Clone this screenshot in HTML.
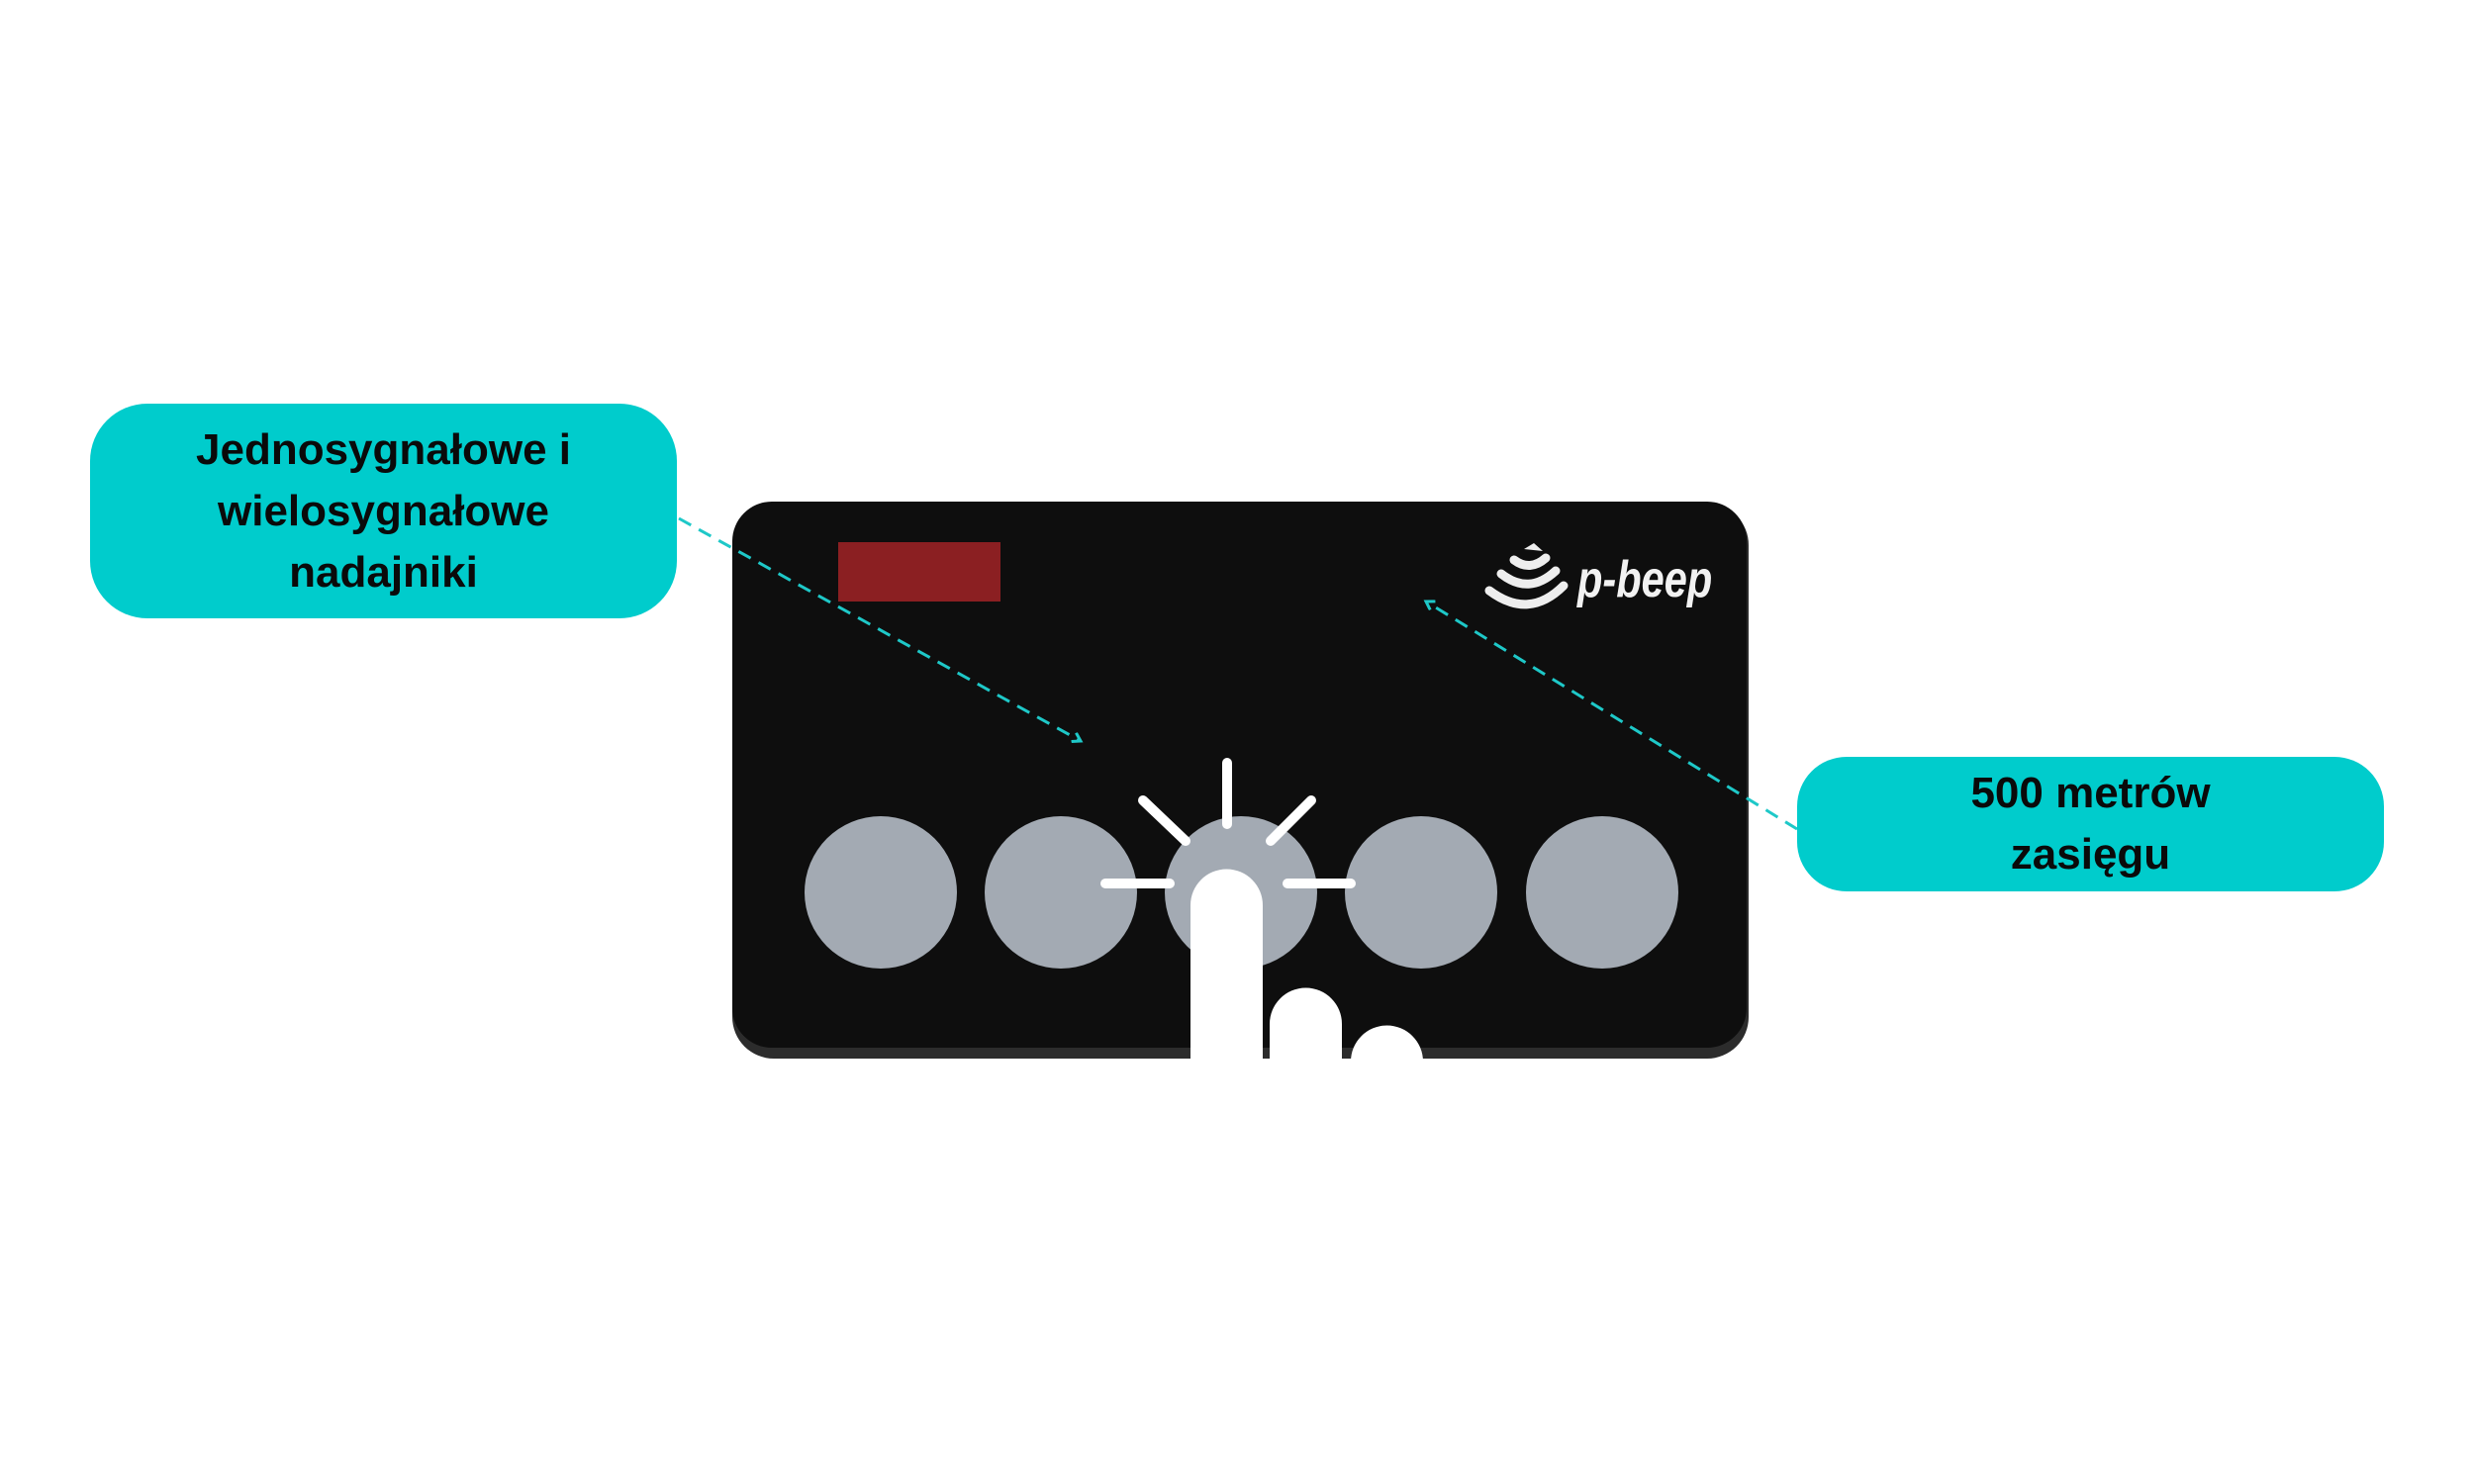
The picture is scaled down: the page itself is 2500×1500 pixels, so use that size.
<!DOCTYPE html>
<html><head><meta charset="utf-8"><style>
html,body{margin:0;padding:0;background:#fff;}
body{width:2500px;height:1500px;position:relative;overflow:hidden;font-family:"Liberation Sans",sans-serif;}
.box{position:absolute;background:#00cccc;border-radius:58px;color:#0a0a0a;font-weight:bold;font-size:44px;line-height:62px;text-align:center;display:flex;align-items:center;justify-content:center;}
</style></head><body>
<svg width="2500" height="1500" style="position:absolute;left:0;top:0">
<defs>
<marker id="ar" markerWidth="12" markerHeight="12" refX="9" refY="6" orient="auto" markerUnits="userSpaceOnUse"><path d="M1,1 L9,6 L1,11" fill="none" stroke="#1ec8c8" stroke-width="3"/></marker>
</defs>
<rect x="740" y="509" width="1027" height="561" rx="42" fill="#2c2c2c"/>
<rect x="740" y="507" width="1025" height="552" rx="40" fill="#0e0e0e"/>
<rect x="847" y="548" width="164" height="60" fill="#8b1f22"/>
<g fill="#a3aab3">
<circle cx="890" cy="902" r="77"/><circle cx="1072" cy="902" r="77"/><circle cx="1254" cy="902" r="77"/><circle cx="1436" cy="902" r="77"/><circle cx="1619" cy="902" r="77"/>
</g>
<g stroke="#fff" stroke-width="10" stroke-linecap="round">
<line x1="1240" y1="771" x2="1240" y2="833"/>
<line x1="1155" y1="809" x2="1198" y2="850"/>
<line x1="1325" y1="809" x2="1284" y2="850"/>
<line x1="1117" y1="893" x2="1182" y2="893"/>
<line x1="1301" y1="893" x2="1365" y2="893"/>
</g>
<g fill="#fff">
<path d="M1203,1070 V915 a36.5,36.5 0 0 1 73,0 V1070Z"/>
<path d="M1283,1070 V1035 a36.5,36.5 0 0 1 73,0 V1070Z"/>
<path d="M1365,1070 V1073 a36.5,36.5 0 0 1 73,0 V1070Z"/>
</g>
<rect x="1190" y="1070" width="270" height="30" fill="#fff"/>
<g fill="none" stroke="#eee" stroke-width="9" stroke-linecap="round">
<path d="M1505,597 q40,30 75,-5"/>
<path d="M1517,580 q28,22 55,-3"/>
<path d="M1530,566 q16,12 32,-2"/>
</g>
<path d="M1540,555 l10,-6 l9,8 z" fill="#eee"/>
<text x="1594" y="603" transform="translate(1594 0) scale(0.8 1) translate(-1594 0)" font-family="Liberation Sans,sans-serif" font-style="italic" font-weight="bold" font-size="52" fill="#f2f2f2">p-beep</text>
<line x1="686" y1="524" x2="1092" y2="749" stroke="#1ec8c8" stroke-width="3" stroke-dasharray="14,9" marker-end="url(#ar)"/>
<line x1="1816" y1="838" x2="1441" y2="608" stroke="#1ec8c8" stroke-width="3" stroke-dasharray="14,9" marker-end="url(#ar)"/>
</svg>
<div class="box" style="left:91px;top:408px;width:593px;height:217px;">Jednosygnałowe i<br>wielosygnałowe<br>nadajniki</div>
<div class="box" style="left:1816px;top:765px;width:593px;height:136px;border-radius:50px;">500 metrów<br>zasięgu</div>
</body></html>
